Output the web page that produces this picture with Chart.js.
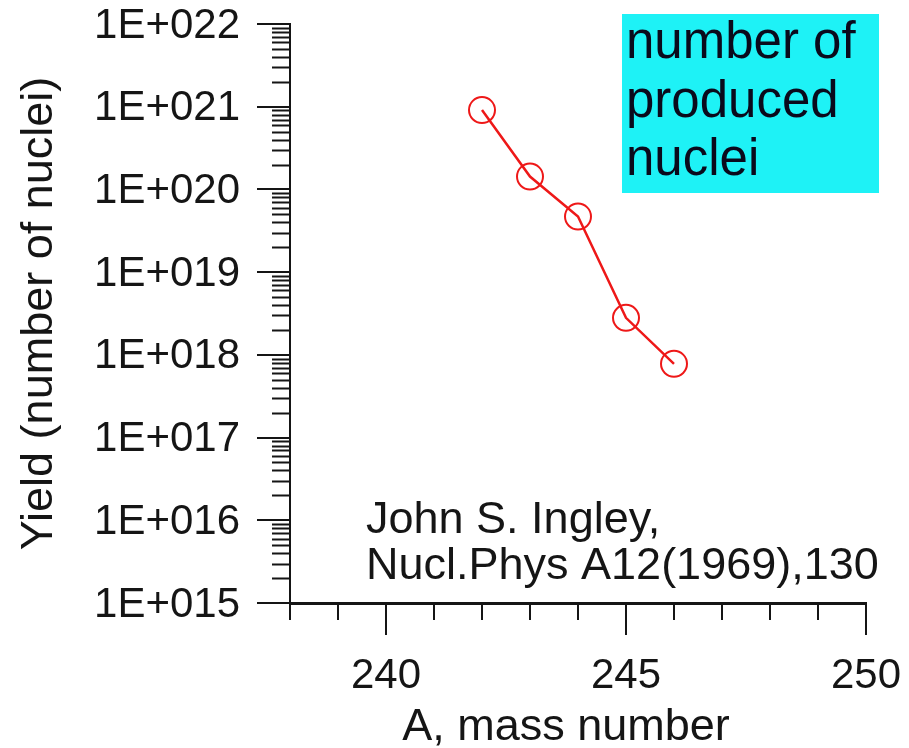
<!DOCTYPE html>
<html>
<head>
<meta charset="utf-8">
<script src="https://cdn.jsdelivr.net/npm/chart.js@4.4.1/dist/chart.umd.min.js"></script>
<style>
  html, body { margin: 0; padding: 0; background: #ffffff; }
  #wrap { width: 909px; height: 748px; position: relative; }
</style>
</head>
<body>
<div id="wrap"><canvas id="yieldChart" width="909" height="748"></canvas></div>
<script>
// Yield of nuclei versus mass number
const massNumbers = [242, 243, 244, 245, 246];
const yields = [9.1e20, 1.43e20, 4.7e19, 2.8e18, 7.8e17];

// Axis ticks
const yDecades = [1e15, 1e16, 1e17, 1e18, 1e19, 1e20, 1e21, 1e22];
const yMinorMultipliers = [2, 3, 4, 5, 6, 7, 8, 9];
const xMajorTicks = [240, 245, 250];
const xMinorTicks = [238, 239, 241, 242, 243, 244, 246, 247, 248, 249];

// Text blocks
const xAxisTitle = 'A, mass number';
const boxLines = ['number of', 'produced', 'nuclei'];
const noteLines = ['John S. Ingley,', 'Nucl.Phys A12(1969),130'];

const FONT = '"Liberation Sans", Arial, Helvetica, sans-serif';
const INK = '#151515';
const RED = 'rgb(238, 24, 24)';

// Short minor tick marks on both axes
const minorTicksPlugin = {
  id: 'minorTicks',
  afterDraw(chart) {
    const { ctx } = chart;
    const xs = chart.scales.x, ys = chart.scales.y;
    ctx.save();
    ctx.strokeStyle = INK;
    ctx.lineWidth = 2;
    ctx.beginPath();
    for (let i = 0; i < yDecades.length - 1; i++) {
      for (const m of yMinorMultipliers) {
        const py = Math.round(ys.getPixelForValue(yDecades[i] * m)) + 0.5;
        ctx.moveTo(ys.right - 18, py);
        ctx.lineTo(ys.right, py);
      }
    }
    for (const v of xMinorTicks) {
      const px = Math.round(xs.getPixelForValue(v));
      ctx.moveTo(px, xs.top);
      ctx.lineTo(px, xs.top + 17);
    }
    ctx.stroke();
    ctx.restore();
  }
};

// Cyan caption box, citation text and the x-axis title
const notesPlugin = {
  id: 'notes',
  beforeDatasetsDraw(chart) {
    const { ctx } = chart;
    ctx.save();
    ctx.fillStyle = 'rgb(30, 242, 246)';
    ctx.fillRect(622, 14, 257, 179);
    ctx.fillStyle = '#0a0a1c';
    ctx.font = '51px ' + FONT;
    ctx.textBaseline = 'alphabetic';
    ctx.textAlign = 'left';
    boxLines.forEach((t, i) => ctx.fillText(t, 626, 58 + i * 58.5));

    ctx.fillStyle = INK;
    ctx.font = '45px ' + FONT;
    noteLines.forEach((t, i) => ctx.fillText(t, 366, 533 + i * 46));

    ctx.textAlign = 'center';
    ctx.fillText(xAxisTitle, 566, 740);
    ctx.restore();
  }
};

const points = massNumbers.map((a, i) => ({ x: a, y: yields[i] }));

new Chart(document.getElementById('yieldChart'), {
  type: 'line',
  data: {
    datasets: [{
      data: points,
      borderColor: RED,
      borderWidth: 2.5,
      pointStyle: 'circle',
      pointRadius: 13,
      pointHoverRadius: 13,
      pointBorderWidth: 2,
      pointBorderColor: RED,
      pointBackgroundColor: 'rgba(0,0,0,0)',
      tension: 0,
      fill: false
    }]
  },
  options: {
    responsive: false,
    animation: false,
    devicePixelRatio: 1,
    events: [],
    layout: { padding: { left: 0, top: 24, right: 43, bottom: 0 } },
    plugins: { legend: { display: false }, tooltip: { enabled: false }, title: { display: false } },
    scales: {
      x: {
        type: 'linear',
        min: 238,
        max: 250,
        afterBuildTicks(scale) { scale.ticks = xMajorTicks.map(v => ({ value: v })); },
        afterFit(scale) {
          scale.height = 145;
          scale.paddingLeft = 0;
          scale.paddingRight = 0;
        },
        grid: { display: true, drawOnChartArea: false, drawTicks: true, tickLength: 32, color: INK, lineWidth: 2 },
        border: { display: true, color: INK, width: 3 },
        ticks: {
          autoSkip: false,
          maxRotation: 0,
          padding: 20,
          color: INK,
          font: { family: FONT, size: 42, lineHeight: 1 },
          callback: v => String(v)
        },
        title: { display: false }
      },
      y: {
        type: 'logarithmic',
        min: 1e15,
        max: 1e22,
        afterBuildTicks(scale) { scale.ticks = yDecades.map(v => ({ value: v })); },
        afterFit(scale) {
          scale.width = 290;
          scale.paddingTop = 0;
          scale.paddingBottom = 0;
        },
        grid: { display: true, drawOnChartArea: false, drawTicks: true, tickLength: 33, color: INK, lineWidth: 2 },
        border: { display: true, color: INK, width: 2 },
        ticks: {
          autoSkip: false,
          padding: 17,
          labelOffset: 2,
          color: INK,
          font: { family: FONT, size: 42, lineHeight: 1 },
          callback: v => '1E+' + String(Math.round(Math.log10(v))).padStart(3, '0')
        },
        title: {
          display: true,
          text: 'Yield (number of nuclei)',
          color: INK,
          font: { family: FONT, size: 45, lineHeight: 1 },
          padding: { top: 17, bottom: 0 }
        }
      }
    }
  },
  plugins: [minorTicksPlugin, notesPlugin]
});
</script>
</body>
</html>
